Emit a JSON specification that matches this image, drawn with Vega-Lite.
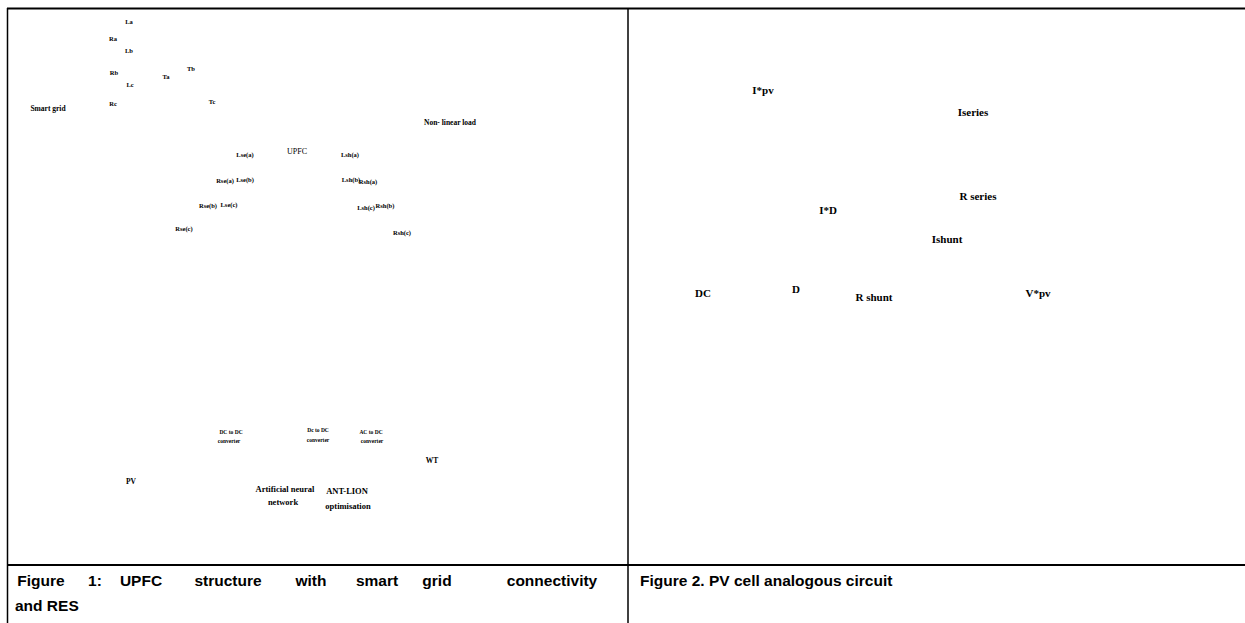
{
  "$schema": "https://vega.github.io/schema/vega-lite/v6.json",
  "width": 1245,
  "height": 623,
  "padding": 0,
  "autosize": {"type": "none"},
  "background": "white",
  "config": {"view": {"stroke": null}},
  "datasets": {
    "lines": [
      {"part": "top border", "x": 7, "x2": 1245, "y": 8.5, "y2": 8.5, "orient": "h"},
      {"part": "caption rule", "x": 7, "x2": 1245, "y": 565, "y2": 565, "orient": "h"},
      {"part": "left border", "x": 7.5, "x2": 7.5, "y": 8, "y2": 623, "orient": "v"},
      {"part": "divider", "x": 628, "x2": 628, "y": 8, "y2": 623, "orient": "v"}
    ],
    "labels": [
      {"kind": "small", "label": "La", "x": 129, "y": 22},
      {"kind": "small", "label": "Ra", "x": 113, "y": 39},
      {"kind": "small", "label": "Lb", "x": 129, "y": 51},
      {"kind": "small", "label": "Rb", "x": 114, "y": 73},
      {"kind": "small", "label": "Lc", "x": 130, "y": 85},
      {"kind": "small", "label": "Ta", "x": 166, "y": 77},
      {"kind": "small", "label": "Tb", "x": 191, "y": 69},
      {"kind": "small", "label": "Rc", "x": 113, "y": 104},
      {"kind": "small", "label": "Tc", "x": 212, "y": 102},
      {"kind": "small", "label": "Lse(a)", "x": 245, "y": 155},
      {"kind": "small", "label": "Lsh(a)", "x": 350, "y": 155},
      {"kind": "small", "label": "Rse(a)", "x": 225, "y": 181},
      {"kind": "small", "label": "Lse(b)", "x": 245, "y": 180},
      {"kind": "small", "label": "Lsh(b)", "x": 351, "y": 180},
      {"kind": "small", "label": "Rsh(a)", "x": 368, "y": 182},
      {"kind": "small", "label": "Rse(b)", "x": 208, "y": 206},
      {"kind": "small", "label": "Lse(c)", "x": 229, "y": 205},
      {"kind": "small", "label": "Lsh(c)", "x": 366, "y": 208},
      {"kind": "small", "label": "Rsh(b)", "x": 385, "y": 206},
      {"kind": "small", "label": "Rse(c)", "x": 184, "y": 229},
      {"kind": "small", "label": "Rsh(c)", "x": 402, "y": 233},
      {"kind": "upfc", "label": "UPFC", "x": 297, "y": 152},
      {"kind": "medium", "label": "Smart grid", "x": 48, "y": 109},
      {"kind": "medium", "label": "Non- linear load", "x": 450, "y": 123},
      {"kind": "medium", "label": "WT", "x": 432, "y": 461},
      {"kind": "medium", "label": "PV", "x": 131, "y": 482},
      {"kind": "tiny", "label": "DC to DC", "x": 231, "y": 432},
      {"kind": "tiny", "label": "converter", "x": 229, "y": 441},
      {"kind": "tiny", "label": "Dc to DC", "x": 318, "y": 430},
      {"kind": "tiny", "label": "converter", "x": 318, "y": 440},
      {"kind": "tiny", "label": "AC to DC", "x": 371, "y": 432},
      {"kind": "tiny", "label": "converter", "x": 372, "y": 441},
      {"kind": "block", "label": "Artificial neural", "x": 285, "y": 489},
      {"kind": "block", "label": "network", "x": 283, "y": 502},
      {"kind": "block", "label": "ANT-LION", "x": 347, "y": 491},
      {"kind": "block", "label": "optimisation", "x": 348, "y": 506},
      {"kind": "circuit", "label": "I*pv", "x": 763, "y": 91},
      {"kind": "circuit", "label": "Iseries", "x": 973, "y": 113},
      {"kind": "circuit", "label": "R series", "x": 978, "y": 197},
      {"kind": "circuit", "label": "I*D", "x": 828, "y": 211},
      {"kind": "circuit", "label": "Ishunt", "x": 947, "y": 240},
      {"kind": "circuit", "label": "DC", "x": 703, "y": 294},
      {"kind": "circuit", "label": "D", "x": 796, "y": 290},
      {"kind": "circuit", "label": "R shunt", "x": 874, "y": 298},
      {"kind": "circuit", "label": "V*pv", "x": 1038, "y": 294}
    ],
    "captions": [
      {"label": "Figure", "x": 41, "y": 581},
      {"label": "1:", "x": 95, "y": 581},
      {"label": "UPFC", "x": 141, "y": 581},
      {"label": "structure", "x": 228, "y": 581},
      {"label": "with", "x": 311, "y": 581},
      {"label": "smart", "x": 377, "y": 581},
      {"label": "grid", "x": 437, "y": 581},
      {"label": "connectivity", "x": 552, "y": 581}
    ],
    "captionLines": [
      {"label": "and RES", "x": 15, "y": 606},
      {"label": "Figure 2. PV cell analogous circuit", "x": 640, "y": 581}
    ]
  },
  "layer": [
    {
      "data": {"name": "lines"},
      "transform": [{"filter": "datum.orient === 'h'"}],
      "mark": {"type": "rule", "color": "black", "strokeWidth": 2},
      "encoding": {
        "x": {"field": "x", "type": "quantitative", "scale": {"domain": [0, 1245], "nice": false, "zero": false}, "axis": null},
        "x2": {"field": "x2"},
        "y": {"field": "y", "type": "quantitative", "scale": {"domain": [0, 623], "nice": false, "zero": false, "reverse": true}, "axis": null},
        "y2": {"field": "y2"}
      }
    },
    {
      "data": {"name": "lines"},
      "transform": [{"filter": "datum.orient === 'v'"}],
      "mark": {"type": "rule", "color": "black", "strokeWidth": 1.5},
      "encoding": {
        "x": {"field": "x", "type": "quantitative", "axis": null},
        "x2": {"field": "x2"},
        "y": {"field": "y", "type": "quantitative", "axis": null},
        "y2": {"field": "y2"}
      }
    },
    {
      "data": {"name": "labels"},
      "transform": [{"filter": "datum.kind === 'small'"}],
      "mark": {"type": "text", "font": "Liberation Serif", "fontWeight": "bold", "fontSize": 6.5, "align": "center", "baseline": "middle", "color": "black"},
      "encoding": {
        "x": {"field": "x", "type": "quantitative", "axis": null},
        "y": {"field": "y", "type": "quantitative", "axis": null},
        "text": {"field": "label"}
      }
    },
    {
      "data": {"name": "labels"},
      "transform": [{"filter": "datum.kind === 'upfc'"}],
      "mark": {"type": "text", "font": "Liberation Serif", "fontWeight": "normal", "fontSize": 8, "align": "center", "baseline": "middle", "color": "black"},
      "encoding": {
        "x": {"field": "x", "type": "quantitative", "axis": null},
        "y": {"field": "y", "type": "quantitative", "axis": null},
        "text": {"field": "label"}
      }
    },
    {
      "data": {"name": "labels"},
      "transform": [{"filter": "datum.kind === 'medium'"}],
      "mark": {"type": "text", "font": "Liberation Serif", "fontWeight": "bold", "fontSize": 7.5, "align": "center", "baseline": "middle", "color": "black"},
      "encoding": {
        "x": {"field": "x", "type": "quantitative", "axis": null},
        "y": {"field": "y", "type": "quantitative", "axis": null},
        "text": {"field": "label"}
      }
    },
    {
      "data": {"name": "labels"},
      "transform": [{"filter": "datum.kind === 'tiny'"}],
      "mark": {"type": "text", "font": "Liberation Serif", "fontWeight": "bold", "fontSize": 5.5, "align": "center", "baseline": "middle", "color": "black"},
      "encoding": {
        "x": {"field": "x", "type": "quantitative", "axis": null},
        "y": {"field": "y", "type": "quantitative", "axis": null},
        "text": {"field": "label"}
      }
    },
    {
      "data": {"name": "labels"},
      "transform": [{"filter": "datum.kind === 'block'"}],
      "mark": {"type": "text", "font": "Liberation Serif", "fontWeight": "bold", "fontSize": 8.5, "align": "center", "baseline": "middle", "color": "black"},
      "encoding": {
        "x": {"field": "x", "type": "quantitative", "axis": null},
        "y": {"field": "y", "type": "quantitative", "axis": null},
        "text": {"field": "label"}
      }
    },
    {
      "data": {"name": "labels"},
      "transform": [{"filter": "datum.kind === 'circuit'"}],
      "mark": {"type": "text", "font": "Liberation Serif", "fontWeight": "bold", "fontSize": 11, "align": "center", "baseline": "middle", "color": "black"},
      "encoding": {
        "x": {"field": "x", "type": "quantitative", "axis": null},
        "y": {"field": "y", "type": "quantitative", "axis": null},
        "text": {"field": "label"}
      }
    },
    {
      "data": {"name": "captions"},
      "mark": {"type": "text", "font": "Liberation Sans", "fontWeight": "bold", "fontSize": 15.5, "align": "center", "baseline": "middle", "color": "black"},
      "encoding": {
        "x": {"field": "x", "type": "quantitative", "axis": null},
        "y": {"field": "y", "type": "quantitative", "axis": null},
        "text": {"field": "label"}
      }
    },
    {
      "data": {"name": "captionLines"},
      "mark": {"type": "text", "font": "Liberation Sans", "fontWeight": "bold", "fontSize": 15.5, "align": "left", "baseline": "middle", "color": "black"},
      "encoding": {
        "x": {"field": "x", "type": "quantitative", "axis": null},
        "y": {"field": "y", "type": "quantitative", "axis": null},
        "text": {"field": "label"}
      }
    }
  ]
}
